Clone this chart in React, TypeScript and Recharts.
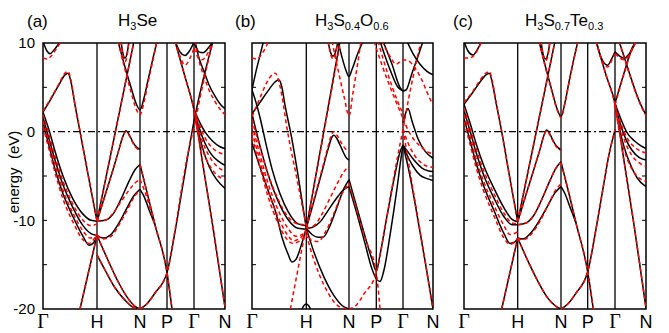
import React from 'react';
import { LineChart, Line, XAxis, YAxis, ReferenceLine, ReferenceArea } from 'recharts';

type Band = [number, number][];

// high-symmetry labels along the path
const symLabels = ['Γ', 'H', 'N', 'P', 'Γ', 'N'];
const aSym = [0, 54, 97, 124, 151, 182];
const bSym = [0, 54.3, 97, 124.3, 151, 181];
const cSym = [0, 53.7, 97, 123.7, 151, 182];
const yTicks = [-20, -10, 0, 10];
const minorTicks = [-15, -10, -5, 0, 5];

// (a) H3Se
const aBlack: Band[] = [
  [[0, 10.2], [4, 9.1], [7, 8.8], [11, 9.2], [15, 9.8], [18, 10.3]],
  [[0, 2.2], [8, 3.7], [16, 5.3], [22, 6.4], [25, 6.6], [28, 5.6], [32, 3.0], [37, 0], [45, -4.8], [54, -10.1]],
  [[0, 2.2], [6, 0.2], [12, -2.2], [20, -5.0], [30, -7.6], [40, -9.3], [48, -10.0], [54, -10.1]],
  [[0, 1.6], [6, -0.8], [12, -3.2], [20, -6.0], [30, -8.6], [40, -10.6], [48, -11.5], [54, -11.7]],
  [[0, 1.0], [6, -1.6], [12, -4.2], [20, -7.0], [30, -9.6], [40, -11.8], [46, -12.8], [50, -12.6], [54, -11.7]],
  [[37, -20], [54, -11.7]],
  [[54, -10.1], [62, -10.0], [70, -9.3], [78, -7.6], [86, -5.6], [92, -4.3], [97, -3.7]],
  [[54, -11.7], [60, -12.0], [68, -11.6], [76, -10.3], [84, -8.6], [91, -7.2], [97, -6.5]],
  [[54, -10.1], [62, -7.2], [70, -4.3], [76, -2.0], [80, -0.5], [83, 0.1], [86, -0.3], [90, -1.2], [94, -1.8], [97, -2.0]],
  [[54, -10.1], [91, 10.2]],
  [[75, 10.2], [82, 7.3], [88, 5.0], [93, 3.2], [97, 2.45], [101, 3.8], [105, 5.8], [110, 8.3], [114, 10.2]],
  [[78, 10.2], [80, 8.8], [82, 8.3], [84, 8.8], [86, 10.2]],
  [[54, -11.7], [65, -14.5], [75, -16.9], [85, -18.8], [92, -19.7], [97, -20]],
  [[54, -13.9], [62, -15.6], [72, -17.6], [82, -19.0], [90, -19.8], [97, -20]],
  [[97, -3.7], [105, -7.3], [112, -10.5], [124, -15.9], [129, -20]],
  [[97, -6.5], [101, -7.3], [106, -8.8], [112, -10.5]],
  [[97, -20], [104, -19.4], [112, -18.2], [124, -15.9], [132, -11.3], [139, -6.6], [145, -2.6], [151, 1.2], [160, 5.8], [170, 10.2]],
  [[132, 10.2], [142, 6.2], [151, 2.44], [160, -3.8], [170, -10.8], [182, -19.8]],
  [[132, 10.3], [137, 9.0], [142, 8.6], [147, 9.2], [151, 10.1]],
  [[151, 10.1], [156, 9.0], [160, 8.9], [165, 9.4], [170, 10.2]],
  [[152, 10.2], [156, 8.3], [161, 6.8], [166, 5.3], [172, 4.0], [178, 3.0], [182, 2.6]],
  [[151, 2.44], [157, 1.0], [163, -0.2], [170, -1.1], [177, -1.7], [182, -1.9]],
  [[151, 2.44], [156, 0.5], [162, -1.3], [168, -2.5], [175, -3.3], [182, -3.8]],
  [[151, 2.44], [155, 0.2], [160, -2.0], [166, -3.9], [173, -5.3], [182, -6.4]],
];

const aRed: Band[] = [
  [[0, 8.3], [4, 8.2], [8, 8.5], [13, 9.3], [19, 10.3]],
  [[0, 2.3], [8, 3.8], [16, 5.4], [22, 6.6], [25, 6.8], [28, 5.8], [32, 3.1], [37, 0.1], [45, -4.8], [54, -10.1]],
  [[0, 1.9], [6, -0.3], [12, -2.8], [20, -5.6], [30, -8.2], [40, -10.0], [48, -10.6], [54, -10.4]],
  [[0, 1.2], [6, -1.2], [12, -3.7], [20, -6.6], [30, -9.2], [40, -11.2], [47, -12.0], [54, -11.6]],
  [[0, 0.6], [6, -2.0], [12, -4.6], [20, -7.6], [30, -10.2], [40, -12.2], [46, -12.6], [54, -11.5]],
  [[37, -20], [54, -11.7]],
  [[54, -10.1], [62, -10.0], [70, -9.2], [78, -7.9], [86, -6.6], [92, -5.8], [97, -5.4]],
  [[54, -11.7], [60, -12.1], [68, -11.8], [76, -10.5], [84, -8.9], [91, -7.4], [97, -6.6]],
  [[54, -10.1], [62, -7.2], [70, -4.3], [76, -2.0], [80, -0.5], [83, 0.0], [86, -0.4], [90, -1.3], [94, -1.9], [97, -2.1]],
  [[54, -10.1], [91, 10.2]],
  [[75, 10.2], [82, 7.0], [88, 4.5], [93, 2.6], [97, 1.9], [101, 3.3], [105, 5.5], [110, 8.1], [114, 10.2]],
  [[78, 10.2], [80, 8.5], [82, 7.9], [84, 8.5], [86, 10.2]],
  [[54, -11.7], [65, -14.5], [75, -16.9], [85, -18.8], [92, -19.7], [97, -20]],
  [[54, -13.9], [62, -15.6], [72, -17.6], [82, -19.0], [90, -19.8], [97, -20]],
  [[97, -3.7], [105, -7.3], [112, -10.5], [124, -15.9], [129, -20]],
  [[97, -5.4], [102, -6.8], [107, -8.6], [112, -10.5]],
  [[97, -20], [104, -19.4], [112, -18.2], [124, -15.9], [132, -11.1], [139, -6.2], [145, -2.4], [151, 0.5], [160, 5.4], [170, 10.2]],
  [[132, 10.2], [142, 6.2], [151, 2.44], [160, -3.8], [170, -10.8], [182, -19.8]],
  [[132, 10.3], [137, 8.5], [142, 7.5], [147, 8.3], [151, 9.4]],
  [[151, 9.4], [155, 8.4], [159, 8.1], [165, 8.9], [170, 10.2]],
  [[152, 10.2], [156, 8.0], [161, 6.2], [166, 4.7], [172, 3.4], [178, 2.4], [182, 1.9]],
  [[151, 2.3], [157, 0.6], [163, -0.9], [170, -1.9], [177, -2.4], [182, -2.6]],
  [[151, 2.3], [156, 0.1], [162, -1.8], [168, -3.1], [175, -4.0], [182, -4.5]],
  [[151, 2.3], [155, -0.2], [160, -2.2], [166, -3.7], [173, -4.8], [182, -5.4]],
];

// (b) H3S0.4O0.6
const bBlack: Band[] = [
  [[0, 4.7], [4, 6.8], [8, 8.6], [11.5, 10.2]],
  [[0, 2.0], [8, 3.3], [16, 4.6], [23, 5.6], [26.7, 5.85], [29.5, 5.2], [33, 3.0], [39.5, -0.6], [46, -4.9], [54.3, -10.9]],
  [[0, 4.7], [4, 3.3], [8, 1.6], [14, -1.4], [20, -4.2], [28, -7.0], [36, -9.0], [46, -10.4], [54.3, -10.6]],
  [[0, 2.0], [8, -1.6], [16, -4.8], [26, -7.8], [36, -9.9], [46, -10.9], [54.3, -11.0]],
  [[0, -1.3], [8, -4.0], [16, -6.6], [24, -9.2], [30, -11.9], [36, -13.8], [40, -14.7], [44, -14.4], [49, -12.9], [54.3, -10.9]],
  [[50, -20], [52, -19.6], [54.3, -19.45], [56.5, -19.6], [58.5, -20]],
  [[54.3, -10.9], [62, -7.8], [70, -4.5], [76, -2.0], [80, -0.6], [82, -0.4], [85, -0.8], [90, -2.0], [94, -2.9], [97, -3.2]],
  [[54.3, -10.9], [88, 10.2]],
  [[54.3, -10.9], [60, -10.8], [68, -10.2], [76, -8.9], [84, -7.6], [91, -6.6], [97, -6.2]],
  [[54.3, -10.9], [60, -11.6], [66, -11.9], [71, -11.9], [78, -10.6], [86, -8.2], [92, -6.4], [97, -5.4]],
  [[54.3, -10.9], [62, -13.6], [72, -16.4], [82, -18.5], [90, -19.6], [97, -20]],
  [[76, 10.2], [79, 8.8], [81, 8.5], [83, 8.8], [86, 10.2]],
  [[86, 10.2], [90, 8.4], [94, 6.9], [97, 6.2], [100, 7.0], [105, 8.6], [111, 10.2]],
  [[97, -5.4], [105, -8.6], [113, -11.8], [120, -14.4], [124.3, -15.7], [128, -13.9], [135, -9.5], [143, -4.8], [148, -2.3], [151, -1.5]],
  [[97, -6.2], [105, -9.3], [113, -12.6], [120, -15.5], [124.3, -16.6], [128, -16.9], [132, -15.6], [138, -11.7], [145, -6.4], [149, -3.0], [151, -1.5]],
  [[131, 10.2], [140, 7.6], [148, 5.0], [151, 4.6], [154, 4.7], [160, 6.6], [166, 8.5], [171, 10.2]],
  [[128, 10.2], [138, 7.0], [146, 5.0], [151, 4.6]],
  [[151, 1.0], [154, 2.2], [156, 2.6], [160, 1.2], [166, -0.8], [173, -2.2], [181, -3.0]],
  [[151, -1.5], [156, -2.3], [162, -3.2], [170, -4.1], [176, -4.4], [181, -4.5]],
  [[151, -1.5], [155, -2.6], [161, -3.9], [168, -4.9], [175, -5.3], [181, -5.5]],
  [[151, -1.5], [158, -5.0], [166, -10.0], [174, -15.2], [181, -20]],
  [[155, 10.2], [161, 8.8], [168, 7.6], [175, 6.8], [181, 6.4]],
];

const bRed: Band[] = [
  [[0, 8.3], [5, 8.2], [10, 8.8], [16.7, 10.2]],
  [[0, 1.7], [8, 3.8], [15, 5.6], [20, 6.4], [23.4, 6.6], [26, 6.0], [30, 4.0], [35, 0.4], [44, -4.8], [54.3, -10.6]],
  [[0, 1.4], [8, -1.8], [16, -4.8], [26, -7.6], [36, -9.6], [46, -10.4], [54.3, -10.5]],
  [[0, 0.8], [8, -2.6], [16, -5.8], [26, -8.8], [36, -10.9], [44, -11.8], [54.3, -11.3]],
  [[0, 0.0], [8, -3.3], [16, -6.6], [26, -9.6], [34, -11.4], [42, -12.3], [48, -12.0], [54.3, -11.2]],
  [[0, -0.6], [8, -4.0], [16, -7.3], [26, -10.3], [34, -12.0], [41, -12.6], [48, -12.3], [54.3, -11.6]],
  [[38.4, -20], [46, -15.5], [54.3, -10.7]],
  [[54.3, -10.9], [62, -7.6], [70, -4.3], [76, -1.7], [80, -0.2], [82, 0.0], [85, -0.4], [90, -1.4], [94, -2.0], [97, -2.2]],
  [[54.3, -10.9], [88.5, 10.2]],
  [[54.3, -10.9], [62, -10.6], [70, -9.3], [78, -7.5], [86, -5.7], [92, -4.5], [97, -3.9]],
  [[54.3, -11.2], [60, -12.3], [66, -12.4], [74, -11.2], [82, -9.2], [90, -7.0], [97, -5.8]],
  [[54.3, -11.6], [62, -14.5], [72, -17.3], [82, -19.2], [90, -19.9], [97, -20]],
  [[80, 10.2], [86, 7.0], [92, 4.0], [97, 1.8], [101, 4.4], [105, 7.2], [109, 10.2]],
  [[76, 10.2], [79, 8.6], [81, 8.2], [83, 8.6], [86, 10.2]],
  [[97, -5.8], [105, -8.9], [113, -12.0], [124.3, -15.9], [128, -20]],
  [[97, -20], [104, -19.6], [112, -18.3], [124.3, -15.9], [132, -11.5], [140, -6.3], [146, -2.6], [151, 0.3], [158, 4.5], [165, 8.2], [169, 10.2]],
  [[122, 10.2], [130, 7.5], [140, 4.5], [151, 1.5]],
  [[126, 10.2], [135, 6.8], [145, 3.6], [151, 2.0]],
  [[130, 10.2], [138, 8.5], [144, 7.6], [151, 8.1], [156, 8.0], [163, 7.2], [170, 5.8], [176, 4.2], [181, 3.0]],
  [[151, 1.5], [156, 0.2], [162, -0.9], [170, -1.8], [176, -2.3], [181, -2.5]],
  [[151, 0.3], [155, -1.0], [161, -2.4], [168, -3.4], [175, -3.9], [181, -4.0]],
  [[151, 0.3], [158, -4.5], [166, -9.8], [174, -15.2], [181, -20]],
];

// (c) H3S0.7Te0.3
const cBlack: Band[] = [
  [[0, 10.2], [4, 9.1], [9, 8.65], [13, 9.2], [17.7, 10.2]],
  [[0, 3.1], [8, 4.3], [16, 5.6], [22, 6.4], [25.3, 6.6], [28.5, 5.4], [32, 3.3], [37.7, 0], [45, -4.7], [53.7, -10.15]],
  [[0, 3.1], [6, 1.0], [12, -1.3], [20, -3.9], [30, -6.4], [40, -8.6], [48, -9.9], [53.7, -10.15]],
  [[0, 2.4], [6, 0.1], [12, -2.3], [20, -5.0], [30, -7.5], [40, -9.6], [48, -10.5], [53.7, -10.5]],
  [[0, 1.5], [6, -1.0], [12, -3.5], [20, -6.2], [30, -8.9], [40, -11.5], [46, -12.6], [50, -12.5], [53.7, -12.0]],
  [[37.7, -20], [53.7, -12.0]],
  [[53.7, -10.5], [62, -10.3], [70, -9.4], [78, -7.6], [86, -5.5], [92, -4.1], [97, -3.4]],
  [[53.7, -12.0], [59, -12.1], [67, -11.4], [76, -9.9], [84, -8.3], [91, -6.9], [97, -6.2]],
  [[53.7, -10.15], [62, -7.1], [70, -4.2], [76, -2.0], [80, -0.4], [82.7, 0.2], [86, -0.3], [90, -1.2], [94, -1.8], [97, -2.07]],
  [[53.7, -10.15], [91, 10.2]],
  [[75, 10.2], [82, 7.1], [88, 4.6], [93, 2.6], [97, 1.7], [101, 3.3], [105, 5.6], [110, 8.3], [114, 10.2]],
  [[77, 10.2], [79, 8.8], [81.5, 8.2], [84, 8.8], [86, 10.2]],
  [[53.7, -12.0], [64, -14.6], [74, -16.9], [84, -18.8], [92, -19.7], [97, -20]],
  [[97, -3.4], [105, -7.0], [112, -10.3], [123.7, -15.8], [129.3, -20]],
  [[97, -6.2], [101, -7.0], [106, -8.5], [112, -10.3]],
  [[97, -20], [104, -19.4], [112, -18.2], [123.7, -15.8], [132, -11.0], [139, -6.4], [145, -2.6], [151, 0.2]],
  [[151, 3.2], [160, 6.6], [168, 9.4], [172, 10.2]],
  [[132, 10.2], [142, 6.4], [151, 3.2], [160, -3.3], [170, -10.5], [182, -19.9]],
  [[132, 10.3], [137, 8.4], [143.7, 7.5], [148, 8.3], [151, 9.0]],
  [[151, 9.0], [156, 8.5], [160.3, 8.3], [166, 8.9], [172, 10.2]],
  [[155, 10.2], [160, 8.5], [166, 6.4], [172, 4.4], [177, 3.0], [182, 1.9]],
  [[151, 3.2], [157, 1.4], [163, -0.1], [170, -1.0], [177, -1.6], [182, -1.9]],
  [[151, 3.2], [156, 1.0], [162, -0.9], [168, -2.1], [175, -2.9], [182, -3.2]],
  [[151, 3.2], [155, 0.6], [160, -1.7], [166, -3.6], [173, -5.2], [182, -6.2]],
];

const cRed: Band[] = [
  [[0, 8.3], [5, 8.3], [10, 8.6], [14, 9.3], [18, 10.2]],
  [[0, 3.3], [8, 4.4], [16, 5.8], [22, 6.6], [25.3, 6.8], [28.5, 5.6], [32, 3.4], [37.7, 0.0], [45, -4.7], [53.7, -10.15]],
  [[0, 2.7], [6, 0.4], [12, -1.9], [20, -4.5], [30, -7.0], [40, -9.2], [48, -10.3], [53.7, -10.4]],
  [[0, 1.9], [6, -0.5], [12, -3.0], [20, -5.7], [30, -8.3], [40, -10.6], [46, -11.6], [53.7, -11.3]],
  [[0, 1.1], [6, -1.4], [12, -4.0], [20, -6.8], [30, -9.5], [40, -12.0], [46, -12.7], [53.7, -12.1]],
  [[37.7, -20], [53.7, -12.0]],
  [[53.7, -10.5], [62, -10.3], [70, -9.4], [78, -7.6], [86, -5.5], [92, -4.1], [97, -3.5]],
  [[53.7, -12.0], [59, -12.2], [67, -11.6], [76, -10.1], [84, -8.3], [91, -6.7], [97, -5.9]],
  [[53.7, -10.15], [62, -7.1], [70, -4.2], [76, -2.0], [80, -0.4], [82.7, 0.1], [86, -0.4], [90, -1.3], [94, -1.9], [97, -2.1]],
  [[53.7, -10.15], [91, 10.2]],
  [[75, 10.2], [82, 7.0], [88, 4.5], [93, 2.5], [97, 1.6], [101, 3.2], [105, 5.5], [110, 8.2], [114, 10.2]],
  [[77, 10.2], [79, 8.6], [81.5, 8.0], [84, 8.6], [86, 10.2]],
  [[53.7, -12.0], [64, -14.6], [74, -16.9], [84, -18.8], [92, -19.7], [97, -20]],
  [[97, -3.5], [105, -7.0], [112, -10.3], [123.7, -15.8], [129.3, -20]],
  [[97, -20], [104, -19.4], [112, -18.2], [123.7, -15.8], [132, -11.0], [139, -6.4], [145, -2.6], [151, 0.2]],
  [[151, 3.0], [160, 6.5], [168, 9.3], [172, 10.2]],
  [[132, 10.2], [142, 6.4], [151, 3.0], [160, -3.3], [170, -10.5], [182, -19.9]],
  [[132, 10.3], [137, 8.3], [143.7, 7.3], [148, 8.1], [151, 8.8]],
  [[151, 8.8], [156, 8.3], [160.3, 8.1], [166, 8.8], [172, 10.2]],
  [[155, 10.2], [160, 8.4], [166, 6.3], [172, 4.3], [177, 2.9], [182, 1.8]],
  [[151, 3.0], [157, 0.9], [163, -0.7], [170, -1.7], [177, -2.2], [182, -2.4]],
  [[151, 3.0], [156, 0.6], [162, -1.4], [168, -2.7], [175, -3.5], [182, -3.9]],
  [[151, 3.0], [155, 0.2], [160, -2.0], [166, -3.8], [173, -5.0], [182, -5.6]],
];

const FONT = '"Liberation Sans", Arial, sans-serif';

const toRows = (b: Band) => b.map(([k, E]) => ({ k, E }));

const SymTick = (props: any) => {
  const { x, payload } = props;
  const lab = symLabels[payload.index];
  const serif = lab === 'Γ';
  return (
    <text
      x={x}
      y={328}
      textAnchor="middle"
      fontSize={serif ? 20 : 18}
      fontFamily={serif ? '"Liberation Serif", "Times New Roman", serif' : FONT}
      fill="#000"
    >
      {lab}
    </text>
  );
};

interface PanelProps {
  left: number;
  sym: number[];
  black: Band[];
  red: Band[];
  showY?: boolean;
}

const Panel = ({ left, sym, black, red, showY }: PanelProps) => {
  const kmax = sym[sym.length - 1];
  const yW = showY ? 40 : 0;
  const ml = showY ? 3 : 12;
  const mr = 12;
  return (
    <div style={{ position: 'absolute', left: left - ml - yW, top: 0 }}>
      <LineChart width={kmax + ml + yW + mr} height={333} margin={{ top: 43, right: mr, bottom: 0, left: ml }}>
        <XAxis
          type="number"
          dataKey="k"
          domain={[0, kmax]}
          ticks={sym}
          interval={0}
          allowDataOverflow
          axisLine={false}
          tickLine={false}
          height={24}
          tick={<SymTick />}
        />
        <YAxis
          type="number"
          domain={[-20, 10]}
          ticks={yTicks}
          allowDataOverflow
          hide={!showY}
          width={yW}
          axisLine={false}
          tickLine={false}
          tickMargin={2}
          tick={{ fill: '#000', fontSize: 15, fontFamily: FONT }}
        />
        {sym.slice(1, -1).map((s, i) => (
          <ReferenceLine key={'v' + i} x={s} stroke="#000" strokeWidth={1.3} />
        ))}
        <ReferenceLine y={0} stroke="#000" strokeWidth={1.2} strokeDasharray="7 3 2 3" />
        {minorTicks.map((t) => (
          <ReferenceLine key={'tl' + t} segment={[{ x: 0, y: t }, { x: 4, y: t }]} stroke="#000" strokeWidth={1} />
        ))}
        {minorTicks.map((t) => (
          <ReferenceLine key={'tr' + t} segment={[{ x: kmax - 4, y: t }, { x: kmax, y: t }]} stroke="#000" strokeWidth={1} />
        ))}
        {black.map((b, i) => (
          <Line
            key={'b' + i}
            data={toRows(b)}
            dataKey="E"
            type="monotone"
            stroke="#000"
            strokeWidth={1.5}
            dot={false}
            isAnimationActive={false}
          />
        ))}
        {red.map((b, i) => (
          <Line
            key={'r' + i}
            data={toRows(b)}
            dataKey="E"
            type="monotone"
            stroke="#ff0000"
            strokeWidth={1.5}
            strokeDasharray="4 3"
            dot={false}
            isAnimationActive={false}
          />
        ))}
        <ReferenceArea x1={0} x2={kmax} y1={-20} y2={10} fill="none" fillOpacity={0} stroke="#000" strokeWidth={1.5} />
      </LineChart>
    </div>
  );
};

const subStyle: React.CSSProperties = { fontSize: 11, verticalAlign: -4 };

const Label = ({ left, top, children }: { left: number; top: number; children: React.ReactNode }) => (
  <div style={{ position: 'absolute', left, top, fontFamily: FONT, fontSize: 17, lineHeight: '17px', color: '#000', whiteSpace: 'nowrap' }}>
    {children}
  </div>
);

export default function App() {
  return (
    <div style={{ position: 'absolute', left: 0, top: 0, width: 669, height: 333, background: '#fff', overflow: 'hidden' }}>
      <Panel left={43} sym={aSym} black={aBlack} red={aRed} showY />
      <Panel left={252} sym={bSym} black={bBlack} red={bRed} />
      <Panel left={464} sym={cSym} black={cBlack} red={cRed} />
      <div
        style={{
          position: 'absolute',
          left: 13,
          top: 172,
          transform: 'translate(-50%, -50%) rotate(-90deg)',
          fontFamily: FONT,
          fontSize: 15,
          whiteSpace: 'nowrap',
        }}
      >
        energy&nbsp;&nbsp;(eV)
      </div>
      <Label left={27} top={13}>(a)</Label>
      <Label left={118} top={12}>
        H<span style={subStyle}>3</span>Se
      </Label>
      <Label left={235} top={13}>(b)</Label>
      <Label left={315} top={12}>
        H<span style={subStyle}>3</span>S<span style={subStyle}>0.4</span>O<span style={subStyle}>0.6</span>
      </Label>
      <Label left={453} top={13}>(c)</Label>
      <Label left={525} top={12}>
        H<span style={subStyle}>3</span>S<span style={subStyle}>0.7</span>Te<span style={subStyle}>0.3</span>
      </Label>
    </div>
  );
}
